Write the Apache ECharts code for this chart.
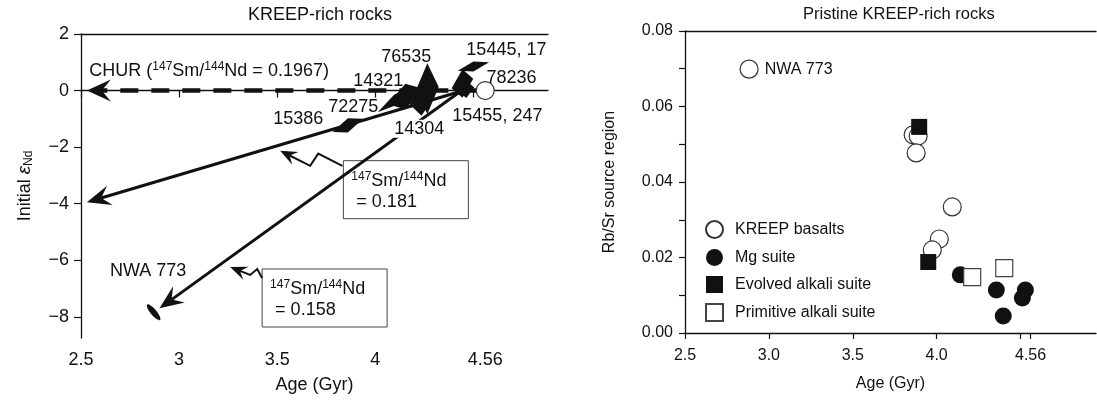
<!DOCTYPE html>
<html><head><meta charset="utf-8">
<script src="https://cdn.jsdelivr.net/npm/echarts@6/dist/echarts.min.js"></script>
<style>html,body{margin:0;padding:0;background:#fff}#c{width:1097px;height:402px}</style>
</head><body><div id="c"></div><script>
// ---------------- data ----------------
// tick values / labels
const leftXTicks = [2.5, 3, 3.5, 4, 4.5, 4.56];
const leftYTicks = [-8, -6, -4, -2, 0, 2];
const rightXTicks = [2.5, 3.0, 3.5, 4.0, 4.5, 4.56];
const rightYTicks = [0, 0.01, 0.02, 0.03, 0.04, 0.05, 0.06, 0.07, 0.08];
const rightYLabels = [0, 0.02, 0.04, 0.06, 0.08];

// Left panel: Nd evolution arrows, [age (Gyr), initial eps Nd]
const churArrow = [[4.53, 0], [2.53, 0]];
const evolutionArrows = [
  [[4.45, 0], [2.53, -3.95]],   // 147Sm/144Nd = 0.181
  [[4.44, 0], [2.90, -7.70]]    // 147Sm/144Nd = 0.158
];
const leaderArrows = [
  [[3.832, -2.66], [3.709, -2.23], [3.668, -2.66], [3.515, -2.13]],
  [[3.423, -6.63], [3.398, -6.31], [3.362, -6.52], [3.260, -6.24]]
];
const boxAnchor = [[3.837, -2.48], [3.423, -6.31]];
const boxRatio = ['0.181', '0.158'];

// KREEP-rich sample error shapes
const blobAge    = [3.86, 4.097, 4.153, 4.235, 4.265, 4.444, 4.50, 4.464];
const blobEps    = [-1.23, -0.34, -0.21, -0.39, 0.07, 0.25, 0.85, 0.04];
const blobAgeErr = [0.078, 0.085, 0.09, 0.06, 0.058, 0.055, 0.08, 0.04];
const blobEpsErr = [0.25, 0.2, 0.45, 0.5, 0.9, 0.5, 0.18, 0.3];
const blobSlope  = [3.0, 5.0, 3.0, 1.5, 1.0, 3.0, 1.9, 2.0];

const chondriteAge = 4.56, chondriteEps = 0;
const nwaLeft = [2.87, -7.84];

// sample labels
const labelText = ['76535', '15445, 17', '78236', '14321', '72275', '15386', '15455, 247', '14304', 'NWA 773'];
const labelAge  = [4.158, 4.668, 4.694, 4.015, 3.888, 3.607, 4.622, 4.224, 2.842];
const labelEps  = [1.17, 1.42, 0.46, 0.35, -0.60, -0.99, -0.89, -1.35, -6.38];
const churLabel = 'CHUR ({p|147}Sm/{p|144}Nd = 0.1967)';
const churLabelPos = [3.153, 0.70];

// Right panel: Rb/Sr source region vs age
const kreepAge   = [2.882, 3.860, 3.890, 3.878, 4.093, 4.016, 3.974];
const kreepRbSr  = [0.0699, 0.0525, 0.0522, 0.0477, 0.0334, 0.0249, 0.0220];
const kreepNames = ['NWA 773', '', '', '', '', '', ''];
const mgAge      = [4.141, 4.356, 4.529, 4.511, 4.397];
const mgRbSr     = [0.0154, 0.0114, 0.0114, 0.0093, 0.0045];
const evolvedAge = [3.896, 3.950];
const evolvedRbSr= [0.0546, 0.0188];
const primAge    = [4.212, 4.403];
const primRbSr   = [0.0148, 0.0172];

// ---------------- chart ----------------
const FONT = '"Liberation Sans", Arial, Helvetica, sans-serif';
const INK = '#111';
const chart = echarts.init(document.getElementById('c'), null, {renderer: 'canvas'});

function pxHead(px, L, W) {
  const n = px.length, tip = px[n - 1], prev = px[n - 2];
  let dx = tip[0] - prev[0], dy = tip[1] - prev[1];
  const len = Math.hypot(dx, dy); dx /= len; dy /= len;
  const nx = -dy, ny = dx;
  const bx = tip[0] - dx * L, by = tip[1] - dy * L;
  const notch = [tip[0] - dx * L * 0.62, tip[1] - dy * L * 0.62];
  return {
    line: px.slice(0, n - 1).concat([notch]),
    head: [tip, [bx + nx * W, by + ny * W], notch, [bx - nx * W, by - ny * W]]
  };
}
function arrowSeries(paths, lineWidth, dash, L, W) {
  return {
    type: 'custom', xAxisIndex: 0, yAxisIndex: 0, silent: true,
    data: paths.map((p, i) => [p[0][0], p[0][1], i]),
    encode: {x: 0, y: 1},
    renderItem: function (params, api) {
      const path = paths[params.dataIndex];
      const px = path.map(p => api.coord(p));
      const a = pxHead(px, L, W);
      return {type: 'group', children: [
        {type: 'polyline', shape: {points: a.line},
         style: {stroke: INK, lineWidth: lineWidth, fill: null, lineDash: dash, lineCap: 'butt'}},
        {type: 'polygon', shape: {points: a.head}, style: {fill: INK}}
      ]};
    }
  };
}
const supRich = {p: {fontSize: 12, fontFamily: FONT, fill: INK, padding: [0, 0, 8, 0]}};

const option = {
  animation: false,
  backgroundColor: '#fff',
  textStyle: {fontFamily: FONT},
  title: [
    {text: 'KREEP-rich rocks', left: 243, top: 1,
     textStyle: {fontSize: 18, fontWeight: 'normal', color: INK, fontFamily: FONT}},
    {text: 'Pristine KREEP-rich rocks', left: 798, top: 1,
     textStyle: {fontSize: 16.5, fontWeight: 'normal', color: INK, fontFamily: FONT}}
  ],
  grid: [
    {left: 81, top: 34, width: 467, height: 304},
    {left: 685, top: 31, width: 411, height: 302}
  ],
  legend: {
    orient: 'vertical', left: 700, top: 215, itemWidth: 17, itemHeight: 17, itemGap: 10,
    textStyle: {fontSize: 16, color: INK, fontFamily: FONT, padding: [0, 0, 0, 7]},
    data: [
      {name: 'KREEP basalts', icon: 'circle'},
      {name: 'Mg suite', icon: 'circle'},
      {name: 'Evolved alkali suite', icon: 'rect'},
      {name: 'Primitive alkali suite', icon: 'rect'}
    ]
  },
  xAxis: [
    {gridIndex: 0, type: 'value', min: 2.5, max: 4.88,
     name: 'Age (Gyr)', nameLocation: 'middle', nameGap: 38,
     nameTextStyle: {fontSize: 18, color: INK, fontFamily: FONT},
     axisLine: {lineStyle: {color: INK, width: 1.3}},
     axisTick: {customValues: leftXTicks, length: 7, lineStyle: {color: INK, width: 1.2}},
     axisLabel: {customValues: leftXTicks, margin: 13, fontSize: 18, color: INK, fontFamily: FONT,
                 formatter: v => (Math.abs(v - 4.5) < 1e-9 ? '' : String(v))},
     splitLine: {show: false}},
    {gridIndex: 0, type: 'value', position: 'top', min: 2.5, max: 4.88,
     axisLine: {lineStyle: {color: INK, width: 1.3}}, axisTick: {show: false},
     axisLabel: {show: false}, splitLine: {show: false}},
    {gridIndex: 1, type: 'value', min: 2.5, max: 4.95,
     name: 'Age (Gyr)', nameLocation: 'middle', nameGap: 43,
     nameTextStyle: {fontSize: 16, color: INK, fontFamily: FONT},
     axisLine: {lineStyle: {color: INK, width: 1.3}},
     axisTick: {customValues: rightXTicks, length: 6, lineStyle: {color: INK, width: 1.2}},
     axisLabel: {customValues: rightXTicks, margin: 15, fontSize: 16, color: INK, fontFamily: FONT,
                 formatter: v => (Math.abs(v - 4.5) < 1e-9 ? '' : (Math.abs(v - 4.56) < 1e-9 ? '4.56' : v.toFixed(1)))},
     splitLine: {show: false}},
    {gridIndex: 1, type: 'value', position: 'top', min: 2.5, max: 4.95,
     axisLine: {lineStyle: {color: INK, width: 1.3}}, axisTick: {show: false},
     axisLabel: {show: false}, splitLine: {show: false}}
  ],
  yAxis: [
    {gridIndex: 0, type: 'value', min: -8.75, max: 2,
     name: 'Initial {e|ε}{s|Nd}', nameLocation: 'middle', nameGap: 46, nameRotate: 90,
     nameTextStyle: {fontSize: 18, color: INK, fontFamily: FONT,
       rich: {e: {fontSize: 19, fontStyle: 'italic', color: INK, fontFamily: FONT},
              s: {fontSize: 12, color: INK, fontFamily: FONT, padding: [8, 0, 0, 0]}}},
     axisLine: {lineStyle: {color: INK, width: 1.3}},
     axisTick: {customValues: leftYTicks, length: 7, lineStyle: {color: INK, width: 1.2}},
     axisLabel: {customValues: leftYTicks, margin: 12, fontSize: 18, color: INK, fontFamily: FONT,
                 formatter: v => String(v).replace('-', '\u2212')},
     splitLine: {show: false}},
    {gridIndex: 1, type: 'value', min: 0, max: 0.08,
     name: 'Rb/Sr source region', nameLocation: 'middle', nameGap: 67, nameRotate: 90,
     nameTextStyle: {fontSize: 16, color: INK, fontFamily: FONT},
     axisLine: {lineStyle: {color: INK, width: 1.3}},
     axisTick: {customValues: rightYTicks, length: 6, lineStyle: {color: INK, width: 1.2}},
     axisLabel: {customValues: rightYLabels, margin: 12, fontSize: 16, color: INK, fontFamily: FONT,
                 formatter: v => v.toFixed(2)},
     splitLine: {show: false}}
  ],
  series: [
    // annotation boxes (under lines)
    {type: 'custom', xAxisIndex: 0, yAxisIndex: 0, silent: true,
     data: boxAnchor.map((b, i) => [b[0], b[1], i]), encode: {x: 0, y: 1},
     renderItem: function (params, api) {
       const i = params.dataIndex;
       const p = api.coord(boxAnchor[i]);
       return {type: 'group', x: p[0], y: p[1], children: [
         {type: 'rect', shape: {x: 0, y: 0, width: 125, height: 58},
          style: {fill: '#fff', stroke: '#444', lineWidth: 1}},
         {type: 'text', x: 8, y: 20, style: {text: '{p|147}Sm/{p|144}Nd', fontSize: 18, fontFamily: FONT,
          fill: INK, align: 'left', verticalAlign: 'middle', rich: supRich}},
         {type: 'text', x: 13, y: 41, style: {text: '= ' + boxRatio[i], fontSize: 18, fontFamily: FONT,
          fill: INK, align: 'left', verticalAlign: 'middle'}}
       ]};
     }},
    arrowSeries([churArrow], 4.5, [18, 13], 24, 11),
    arrowSeries(evolutionArrows, 3, null, 24, 10),
    arrowSeries(leaderArrows, 2, null, 17, 7),
    // sample error shapes
    {type: 'custom', xAxisIndex: 0, yAxisIndex: 0, silent: true,
     data: blobAge.map((a, i) => [a, blobEps[i]]), encode: {x: 0, y: 1},
     renderItem: function (params, api) {
       const i = params.dataIndex;
       const a = blobAge[i], e = blobEps[i], da = blobAgeErr[i], de = blobEpsErr[i], k = blobSlope[i];
       const pts = [[a - da, e - k * da], [a, e + de], [a + da, e + k * da], [a, e - de]].map(p => api.coord(p));
       return {type: 'polygon', shape: {points: pts}, style: {fill: INK}};
     }},
    {type: 'scatter', xAxisIndex: 0, yAxisIndex: 0, silent: true, symbol: 'circle', symbolSize: 18,
     itemStyle: {color: '#fff', borderColor: '#333', borderWidth: 1.2, opacity: 1},
     data: [[chondriteAge, chondriteEps]]},
    {type: 'scatter', xAxisIndex: 0, yAxisIndex: 0, silent: true, symbol: 'circle',
     symbolSize: [20, 6], symbolRotate: -50, itemStyle: {color: INK, opacity: 1},
     data: [nwaLeft]},
    // text labels
    {type: 'custom', xAxisIndex: 0, yAxisIndex: 0, silent: true,
     data: labelAge.map((a, i) => [a, labelEps[i]]), encode: {x: 0, y: 1},
     renderItem: function (params, api) {
       const i = params.dataIndex;
       const p = api.coord([labelAge[i], labelEps[i]]);
       const st = {text: labelText[i], fontSize: 18, fontFamily: FONT, fill: INK, align: 'center', verticalAlign: 'middle'};
       if (labelText[i] === '14304') { st.backgroundColor = '#fff'; st.padding = [0, 1]; }
       return {type: 'text', x: p[0], y: p[1], style: st};
     }},
    {type: 'custom', xAxisIndex: 0, yAxisIndex: 0, silent: true,
     data: [churLabelPos], encode: {x: 0, y: 1},
     renderItem: function (params, api) {
       const p = api.coord(churLabelPos);
       return {type: 'text', x: p[0], y: p[1], style: {text: churLabel, fontSize: 18, fontFamily: FONT,
         fill: INK, align: 'center', verticalAlign: 'middle', rich: supRich}};
     }},
    // right panel
    {type: 'scatter', name: 'KREEP basalts', xAxisIndex: 2, yAxisIndex: 1, symbol: 'circle', symbolSize: 18,
     itemStyle: {color: '#fff', borderColor: '#333', borderWidth: 1.2, opacity: 1},
     label: {show: true, position: 'right', distance: 6, fontSize: 16, color: INK, fontFamily: FONT,
             formatter: p => p.name},
     data: kreepAge.map((a, i) => ({name: kreepNames[i], value: [a, kreepRbSr[i]]}))},
    {type: 'scatter', name: 'Mg suite', xAxisIndex: 2, yAxisIndex: 1, symbol: 'circle', symbolSize: 17,
     itemStyle: {color: INK, opacity: 1},
     data: mgAge.map((a, i) => [a, mgRbSr[i]])},
    {type: 'scatter', name: 'Evolved alkali suite', xAxisIndex: 2, yAxisIndex: 1, symbol: 'rect', symbolSize: 16,
     itemStyle: {color: INK, opacity: 1},
     data: evolvedAge.map((a, i) => [a, evolvedRbSr[i]])},
    {type: 'scatter', name: 'Primitive alkali suite', xAxisIndex: 2, yAxisIndex: 1, symbol: 'rect', symbolSize: 17,
     itemStyle: {color: '#fff', borderColor: '#444', borderWidth: 1.2, opacity: 1},
     data: primAge.map((a, i) => [a, primRbSr[i]])}
  ]
};
chart.setOption(option);
</script></body></html>
